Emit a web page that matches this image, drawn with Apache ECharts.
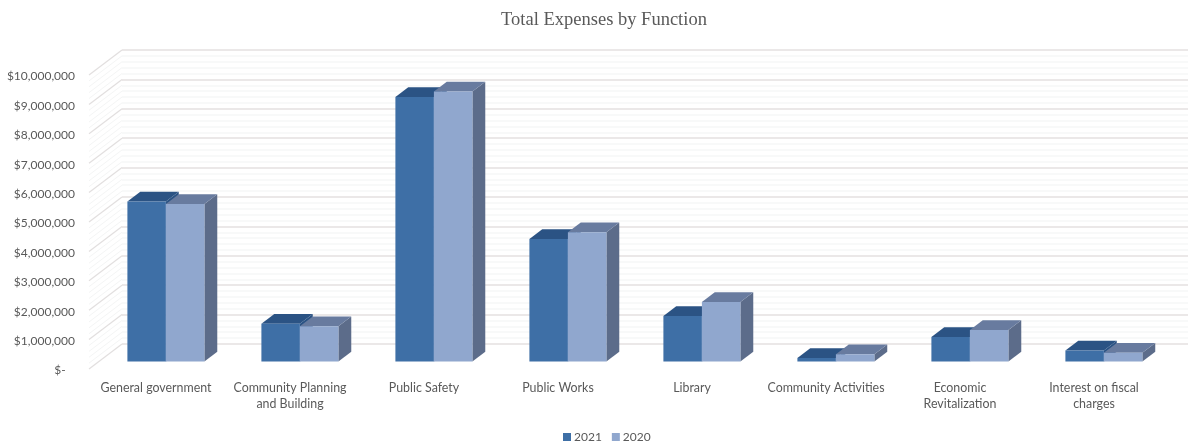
<!DOCTYPE html>
<html>
<head>
<meta charset="utf-8">
<style>html,body{margin:0;padding:0;background:#fff}#chart{width:1188px;height:443px}</style>
<script src="https://cdn.jsdelivr.net/npm/echarts@6/dist/echarts.min.js"></script>
</head>
<body>
<div id="chart"></div>
<script>
const categories = ['General government', 'Community Planning\nand Building', 'Public Safety', 'Public Works', 'Library', 'Community Activities', 'Economic\nRevitalization', 'Interest on fiscal\ncharges'];
const expenses2021 = [5440000, 1280000, 9000000, 4170000, 1550000, 120000, 830000, 370000];
const expenses2020 = [5360000, 1200000, 9180000, 4400000, 2020000, 250000, 1070000, 300000];
const axisTicks = [0, 1000000, 2000000, 3000000, 4000000, 5000000, 6000000, 7000000, 8000000, 9000000, 10000000];
const minorTicks = [200000, 400000, 600000, 800000];

// Projection of the 3D box: how far the back wall sits behind the front plane.
const WALL_DX = 33, WALL_DY = -25;
const FLOOR_GAP = 0.3, BAR_DEPTH = 0.39, BAR_WIDTH = 38.5;

const palette = {
  2021: {front: '#3e6fa6', top: '#2b5384', side: '#2b5384'},
  2020: {front: '#90a7ce', top: '#687b9f', side: '#5c6c8a'}
};

function barItem(colors, side) {
  return function (params, api) {
    const base = api.coord([api.value(0), 0]);
    const tip = api.coord([api.value(0), api.value(1)]);
    const sx = WALL_DX * FLOOR_GAP, sy = WALL_DY * FLOOR_GAP;
    const dx = WALL_DX * BAR_DEPTH, dy = WALL_DY * BAR_DEPTH;
    const x0 = base[0] + sx + side * BAR_WIDTH, x1 = x0 + BAR_WIDTH;
    const yB = base[1] + sy, yT = tip[1] + sy;
    return {
      type: 'group',
      children: [
        {type: 'polygon', shape: {points: [[x1, yB], [x1 + dx, yB + dy], [x1 + dx, yT + dy], [x1, yT]]}, style: {fill: colors.side}},
        {type: 'polygon', shape: {points: [[x0, yT], [x1, yT], [x1 + dx, yT + dy], [x0 + dx, yT + dy]]}, style: {fill: colors.top}},
        {type: 'rect', shape: {x: x0, y: yT, width: BAR_WIDTH, height: yB - yT}, style: {fill: colors.front}}
      ]
    };
  };
}

// Left wall: one receding line per gridline value.
function wallLine(color, width) {
  return function (params, api) {
    const p = api.coord([0, api.value(0)]);
    const x = p[0] - api.size([1, 0])[0] / 2;
    return {
      type: 'line',
      shape: {x1: x, y1: p[1], x2: x + WALL_DX, y2: p[1] + WALL_DY},
      style: {stroke: color, lineWidth: width}
    };
  };
}

const chart = echarts.init(document.getElementById('chart'), null, {renderer: 'canvas'});
const textColor = '#595959';
const uiFont = 'Lato';

chart.setOption({
  animation: false,
  backgroundColor: '#fff',
  title: {
    text: 'Total Expenses by Function',
    left: 599, top: 6, textAlign: 'center',
    textStyle: {fontFamily: 'Liberation Serif', fontSize: 18.5, fontWeight: 'normal', color: textColor}
  },
  legend: {
    left: 558, top: 426,
    itemWidth: 8, itemHeight: 8, itemGap: 10,
    icon: 'rect',
    textStyle: {fontFamily: uiFont, fontSize: 12, color: textColor, padding: [0, 0, 0, -2]},
    data: ['2021', '2020']
  },
  grid: [
    // front plane of the box: carries the labels and the bars
    {left: 89, width: 1072, top: 75, height: 294},
    // back wall: carries the gridlines
    {left: 122, width: 1073, top: 50, height: 294}
  ],
  xAxis: [
    {
      type: 'category', gridIndex: 0, data: categories,
      axisLine: {show: false}, axisTick: {show: false},
      axisLabel: {fontFamily: uiFont, fontSize: 12.4, color: textColor, margin: 11, lineHeight: 16, interval: 0}
    },
    {type: 'category', gridIndex: 1, data: categories, show: false}
  ],
  yAxis: [
    {
      type: 'value', gridIndex: 0, min: 0, max: 10000000, interval: 1000000,
      axisLine: {show: false}, axisTick: {show: false}, splitLine: {show: false},
      axisLabel: {
        margin: 14,
        formatter: v => '{tick|' + (v === 0 ? '$-   ' : '$' + v.toLocaleString('en-US')) + '}',
        rich: {tick: {fontFamily: uiFont, fontSize: 12, color: textColor, padding: [3, 0, 0, 0]}}
      }
    },
    {
      type: 'value', gridIndex: 1, min: 0, max: 10000000, interval: 1000000,
      axisLine: {show: false}, axisTick: {show: false}, axisLabel: {show: false},
      splitLine: {show: true, lineStyle: {color: '#e4e1e1', width: 1.5}},
      minorTick: {show: false, splitNumber: 5},
      minorSplitLine: {show: true, lineStyle: {color: '#f6f7f7', width: 1.5}}
    }
  ],
  series: [
    {
      type: 'custom', silent: true, xAxisIndex: 0, yAxisIndex: 0, z: 1,
      data: axisTicks.flatMap(t => t < 10000000 ? minorTicks.map(m => [t + m]) : []),
      encode: {y: 0}, renderItem: wallLine('#f4f5f5', 1)
    },
    {
      type: 'custom', silent: true, xAxisIndex: 0, yAxisIndex: 0, z: 2,
      data: axisTicks.map(t => [t]),
      encode: {y: 0}, renderItem: wallLine('#e2dfdf', 1.2)
    },
    {
      name: '2021', type: 'custom', xAxisIndex: 0, yAxisIndex: 0, z: 4,
      itemStyle: {color: palette[2021].front},
      data: expenses2021.map((v, i) => [i, v]),
      encode: {x: 0, y: 1}, renderItem: barItem(palette[2021], -1)
    },
    {
      name: '2020', type: 'custom', xAxisIndex: 0, yAxisIndex: 0, z: 5,
      itemStyle: {color: palette[2020].front},
      data: expenses2020.map((v, i) => [i, v]),
      encode: {x: 0, y: 1}, renderItem: barItem(palette[2020], 0)
    },
    // empty series that keeps the back-wall axes in play
    {type: 'line', xAxisIndex: 1, yAxisIndex: 1, data: [], silent: true}
  ]
});
</script>
</body>
</html>
